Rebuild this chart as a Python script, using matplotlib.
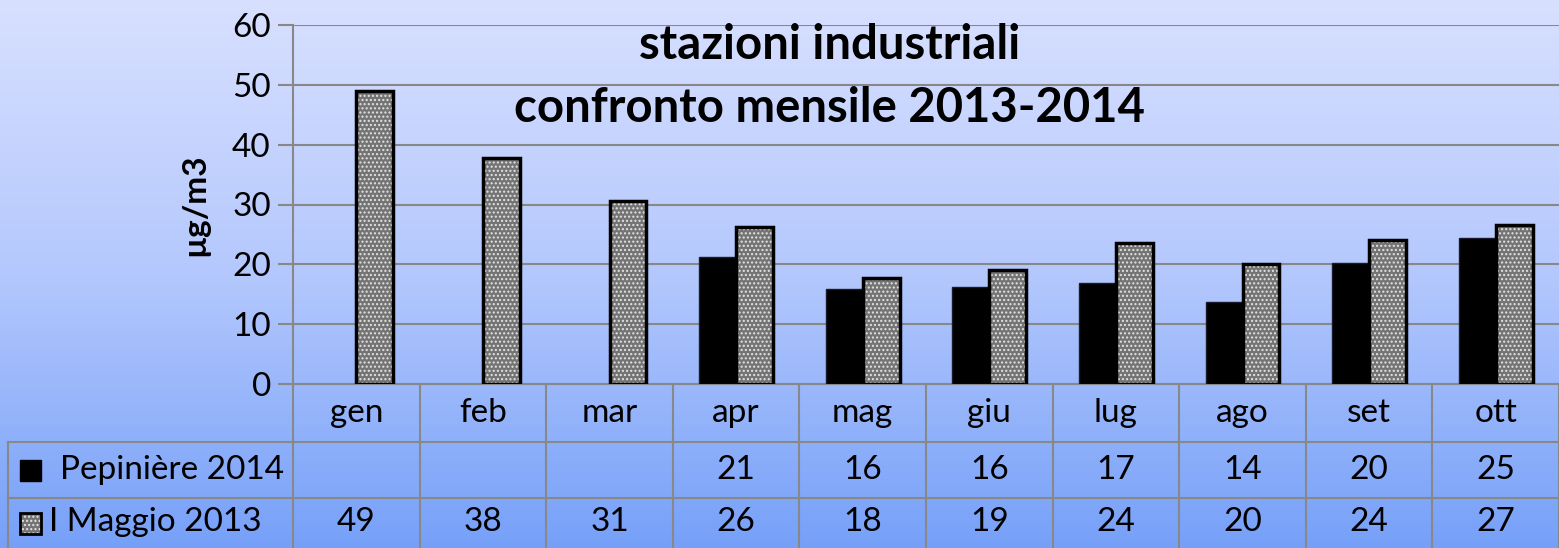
import matplotlib.pyplot as plt
import numpy as np
from matplotlib.patches import Rectangle
from matplotlib.colors import LinearSegmentedColormap

# data
mesi = ['gen', 'feb', 'mar', 'apr', 'mag', 'giu', 'lug', 'ago', 'set', 'ott']
pepiniere_2014 = [np.nan, np.nan, np.nan, 21.3, 15.8, 16.2, 16.8, 13.7, 20.2, 24.4]
maggio_2013 = [49.0, 37.8, 30.6, 26.3, 17.7, 19.0, 23.5, 20.0, 24.0, 26.6]
tab_pepiniere = ['', '', '', '21', '16', '16', '17', '14', '20', '25']
tab_maggio = ['49', '38', '31', '26', '18', '19', '24', '20', '24', '27']
serie = ['Pepinière 2014', 'I Maggio 2013']

plt.rcParams['font.family'] = ['Lato', 'DejaVu Sans']
fs = 24

W, H = 1559, 548
fig = plt.figure(figsize=(W / 100, H / 100), dpi=100)

# background gradient
bg = fig.add_axes([0, 0, 1, 1], zorder=-10)
cmap = LinearSegmentedColormap.from_list('bg', ['#d8e0ff', '#b4c8fd', '#76a0f8'])
bg.imshow(np.linspace(0, 1, 256).reshape(-1, 1), aspect='auto', cmap=cmap,
          extent=[0, 1, 0, 1])
bg.axis('off')

x0, y0, x1, y1 = 293, 384, 1559, 25
ax = fig.add_axes([x0 / W, 1 - y0 / H, (x1 - x0) / W, (y0 - y1) / H])
ax.set_facecolor('none')

x = np.arange(len(mesi))
bw = 0.292
ax.bar(x - bw / 2, pepiniere_2014, bw, color='black', edgecolor='#1a1a2a', lw=1, zorder=3)
ax.bar(x + bw / 2, maggio_2013, bw, color='#747474', edgecolor='#e4e4e4', hatch='....', lw=0, zorder=3)
ax.bar(x + bw / 2, maggio_2013, bw, color='none', edgecolor='black', lw=2.5, zorder=4)

ax.set_xlim(-0.5, len(mesi) - 0.5)
ax.set_ylim(0, 60)
ax.set_yticks(range(0, 61, 10))
ax.tick_params(axis='y', labelsize=fs, length=11, width=1.5, color='#888888', pad=5)
ax.set_xticks([])
ax.grid(axis='y', color='#888888', lw=1.5, zorder=0)
for s in ['top', 'right']:
    ax.spines[s].set_visible(False)
ax.spines['left'].set_color('#888888')
ax.spines['left'].set_linewidth(1.5)
ax.spines['bottom'].set_color('#888888')
ax.spines['bottom'].set_linewidth(1.5)
ax.set_ylabel('µg/m3', fontsize=24, fontweight='bold')
ax.yaxis.set_label_coords(-0.066, 0.5)

ax.text(0.424, 0.944, 'stazioni industriali', transform=ax.transAxes, ha='center', va='center',
        fontsize=34, fontweight='bold')
ax.text(0.424, 0.769, 'confronto mensile 2013-2014', transform=ax.transAxes, ha='center', va='center',
        fontsize=34, fontweight='bold')

# data table under the axis
ph = y0 - y1
def ay(py):
    return (y0 - py) / ph
def dx(px):
    return (px - x0) / ((x1 - x0) / len(mesi)) - 0.5

tr = ax.get_xaxis_transform()
gc = '#888888'
r0, r1, r2, r3 = ay(384), ay(442), ay(498), ay(549)
xl = dx(8)
for k in range(len(mesi) + 1):
    ax.plot([k - 0.5, k - 0.5], [r0, r3], color=gc, lw=1.5, transform=tr, clip_on=False)
ax.plot([xl, xl], [r1, r3], color=gc, lw=1.5, transform=tr, clip_on=False)
for r in [r1, r2]:
    ax.plot([xl, len(mesi) - 0.5], [r, r], color=gc, lw=1.5, transform=tr, clip_on=False)
ax.plot([xl, -0.5], [r3, r3], color=gc, lw=1.5, transform=tr, clip_on=False)

for i, m in enumerate(mesi):
    ax.text(i, (r0 + r1) / 2, m, transform=tr, ha='center', va='center', fontsize=fs)
    ax.text(i, (r1 + r2) / 2, tab_pepiniere[i], transform=tr, ha='center', va='center', fontsize=fs)
    ax.text(i, (r2 + r3) / 2 + 0.005, tab_maggio[i], transform=tr, ha='center', va='center', fontsize=fs)

ax.text(dx(60), (r1 + r2) / 2, serie[0], transform=tr, ha='left', va='center', fontsize=fs)
ax.text(dx(49), (r2 + r3) / 2 + 0.005, serie[1], transform=tr, ha='left', va='center', fontsize=fs)
ax.add_patch(Rectangle((dx(20), ay(481)), dx(41) - dx(20), ay(460) - ay(481), transform=tr,
                       facecolor='black', edgecolor='black', clip_on=False))
ax.add_patch(Rectangle((dx(20), ay(534)), dx(41) - dx(20), ay(513) - ay(534), transform=tr,
                       facecolor='#747474', edgecolor='#e4e4e4', hatch='....', lw=0, clip_on=False))
ax.add_patch(Rectangle((dx(20), ay(534)), dx(41) - dx(20), ay(513) - ay(534), transform=tr,
                       facecolor='none', edgecolor='black', lw=2, clip_on=False))

fig.savefig('out.png', dpi=100)
